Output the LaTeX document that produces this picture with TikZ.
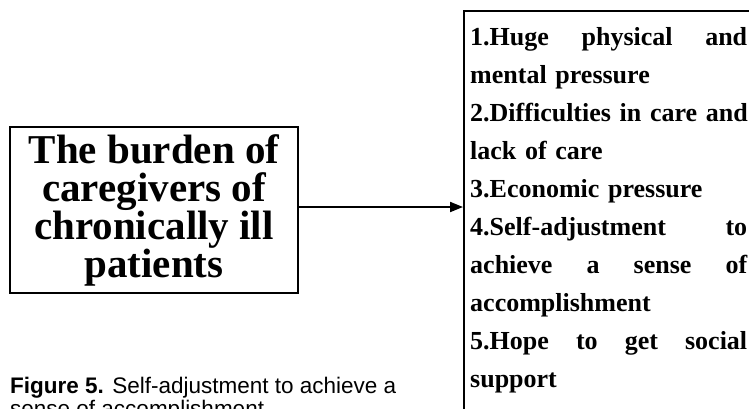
\documentclass[tikz,border=0pt]{standalone}
\usepackage{fontspec}
\setmainfont{Liberation Serif}
\newfontfamily\capfont{Liberation Sans}
\usetikzlibrary{arrows.meta}
\tikzset{
  boxline/.style={draw=black, line width=2pt},
  arr/.style={line width=2pt, -{Triangle[length=13pt,width=10pt]}},
  bigtxt/.style={font=\bfseries\fontsize{41pt}{38pt}\selectfont, align=center},
  listtxt/.style={font=\bfseries\fontsize{26pt}{38pt}\selectfont, text width=277pt, align=left, inner sep=0pt},
  captxt/.style={font=\capfont\fontsize{22.5pt}{21pt}\selectfont, align=left, inner sep=0pt}
}
\newcommand{\jline}[1]{\makebox[277pt][l]{#1}}
\begin{document}
\begin{tikzpicture}[x=1pt,y=-1pt]
\useasboundingbox (0,0) rectangle (749,408);
\clip (0,0) rectangle (749,408);
% left box
\node[boxline, bigtxt, minimum width=288pt, minimum height=166pt, inner sep=0pt] (lb) at (154,210)
  {The burden of\\caregivers of\\chronically ill\\patients};
% right box
\node[boxline, minimum width=300pt, minimum height=420pt, anchor=north west, inner sep=0pt] (rb) at (463,10) {};
\node[listtxt, anchor=base west] (list) at (470,45) {%
  \jline{1.Huge\hfill physical\hfill and}\\
  mental pressure\\
  \jline{2.Difficulties in care and}\\
  lack of care\\
  3.Economic pressure\\
  \jline{4.Self-adjustment\hfill to}\\
  \jline{achieve\hfill a\hfill sense\hfill of}\\
  accomplishment\\
  \jline{5.Hope\hfill to\hfill get\hfill social}\\
  support};
% arrow
\coordinate (ay) at (0,207);
\draw[arr] (lb.east |- ay) -- (rb.west |- ay);
% caption (second line cut by the lower edge, as in the reference)
\node[captxt, anchor=base west] (cap) at (10,416)
  {\textbf{Figure 5.} Self-adjustment to achieve a\\sense of accomplishment};
\end{tikzpicture}
\end{document}
